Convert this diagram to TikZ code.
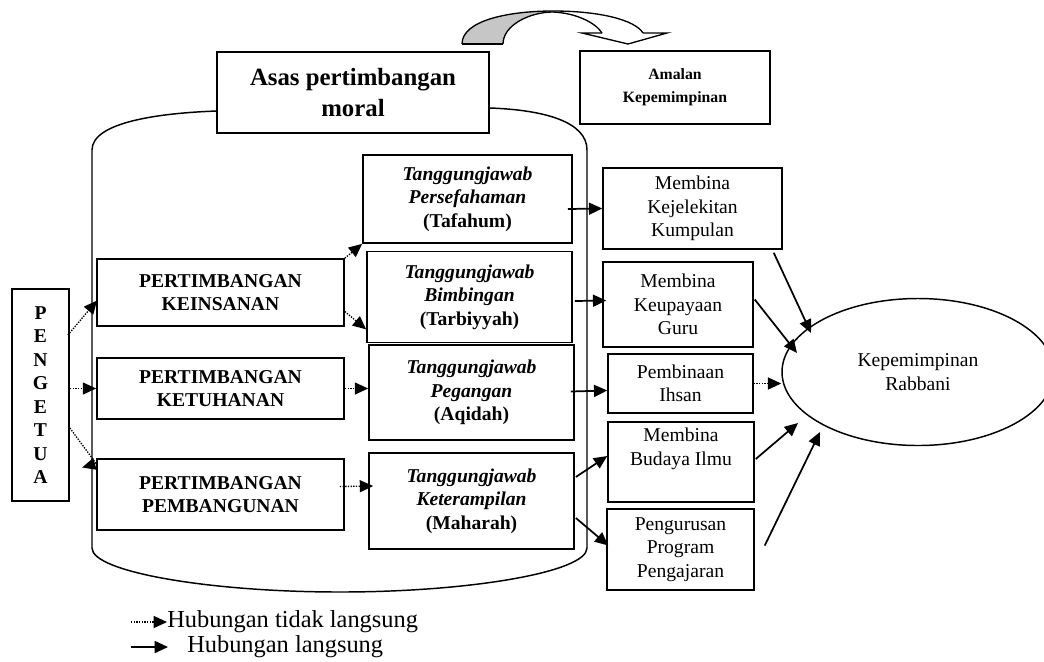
\documentclass[tikz,border=0pt]{standalone}
\usepackage{fontspec}
\setmainfont{Liberation Serif}
\usetikzlibrary{positioning,arrows.meta,calc,shapes.geometric}

\newcommand{\bodysize}{\fontsize{14.7}{17.6}\selectfont}

\begin{document}
\begin{tikzpicture}[
  x=0.75pt, y=-0.75pt,
  box/.style={draw, line width=1.3pt, fill=white, align=center, inner sep=0pt, font=\bodysize},
  dim/.style 2 args={minimum width=#1*0.75pt, minimum height=#2*0.75pt},
  judge/.style={box, font=\bodysize\bfseries},
  duty/.style={box, font=\bodysize\bfseries},
  result/.style={box, line width=1.1pt},
  goal/.style={ellipse, draw, line width=1.1pt, inner sep=0pt, align=center, font=\bodysize},
  direct/.style={line width=1.3pt, -{Triangle[length=10pt, width=9pt]}},
  indirect/.style={line width=1pt, dash pattern=on 1pt off 1pt, -{Triangle[length=10pt, width=9pt]}}
]
  \useasboundingbox (0,0) rectangle (1044,661);

  % bekas pertimbangan
  \draw[line width=1.1pt] (92,150) .. controls (92,122) and (160,113) .. (217,111) -- (490,108)
    .. controls (545,110) and (587,122) .. (587,150) -- (587,548)
    .. controls (587,572) and (470,592) .. (340,592)
    .. controls (210,592) and (92,572) .. (92,548) -- cycle;

  % anak panah melengkung
  \fill[gray!45] (462,44) .. controls (462,20) and (510,11) .. (553,11)
    .. controls (530,12) and (503,25) .. (503,44) -- cycle;
  \draw[line width=1pt] (462,44) .. controls (462,20) and (510,11) .. (553,11)
    .. controls (600,11) and (635,20) .. (643,33);
  \draw[line width=1pt] (503,44) .. controls (503,25) and (530,12) .. (553,12)
    .. controls (575,13) and (595,22) .. (602,33);
  \draw[line width=1pt] (462,44) -- (503,44);
  \draw[line width=1pt, line join=miter] (602,33) -- (582,33) -- (628,44) -- (667,33) -- (643,33);

  \node[box, dim={57}{212}, font=\bodysize\bfseries] (pengetua) at (40.5,395) {P\\E\\N\\G\\E\\T\\U\\A};
  \node[box, dim={272}{81}, font=\fontsize{18.6}{23}\selectfont\bfseries] (asas) at (353,92.5) {Asas pertimbangan\\moral};
  \node[box, dim={190}{73}, font=\fontsize{11.8}{17.3}\selectfont\bfseries] (amalan) at (675,87.5) {Amalan\\Kepemimpinan};

  \node[judge, dim={247}{67}] (keinsanan)   at (220.5,292.5) {PERTIMBANGAN\\KEINSANAN};
  \node[judge, dim={247}{61}] (ketuhanan)   at (220.5,388.5) {PERTIMBANGAN\\KETUHANAN};
  \node[judge, dim={247}{71}] (pembangunan) at (220.5,494.5) {PERTIMBANGAN\\PEMBANGUNAN};

  \node[duty, dim={209}{88}] (tafahum)   at (467.5,199)   {\textit{Tanggungjawab}\\\textit{Persefahaman}\\(Tafahum)};
  \node[duty, dim={205}{91}] (tarbiyyah) at (469.5,297)   {\textit{Tanggungjawab}\\\textit{Bimbingan}\\(Tarbiyyah)};
  \node[duty, dim={205}{95}] (aqidah)    at (471.5,392.5) {\textit{Tanggungjawab}\\\textit{Pegangan}\\(Aqidah)};
  \node[duty, dim={205}{96}] (maharah)   at (471.5,501)   {\textit{Tanggungjawab}\\\textit{Keterampilan}\\(Maharah)};

  \node[result, dim={179}{81}] (kumpulan)   at (692.5,208.5) {Membina\\Kejelekitan\\Kumpulan};
  \node[result, dim={150}{85}] (guru)       at (678,304.5)   {Membina\\Keupayaan\\Guru};
  \node[result, dim={145}{59}] (ihsan)      at (680.5,383.5) {Pembinaan\\Ihsan};
  \node[result, dim={146}{80}] (ilmu)       at (681,462)     {Membina\\Budaya Ilmu\\\strut};
  \node[result, dim={147}{81}] (pengurusan) at (680.5,549.5) {Pengurusan\\Program\\Pengajaran};

  \node[goal, dim={272}{147}] (rabbani) at (918,372) {Kepemimpinan\\Rabbani};

  % hubungan tidak langsung
  \draw[indirect] ($(pengetua.east)+(-2,-60)$) -- ($(keinsanan.west)+(1,8)$);
  \draw[indirect] (pengetua.east |- ketuhanan.west) -- (ketuhanan.west);
  \draw[indirect] ($(pengetua.east)+(0,33)$) -- ($(pembangunan.west)+(0,-31)$) -- ($(pembangunan.west)+(-14,-27)$);
  \draw[indirect] (keinsanan.north east) -- (tafahum.south west);
  \draw[indirect] ($(keinsanan.east)+(0,19)$) -- ($(tarbiyyah.south west)+(0,-14)$);
  \draw[indirect] (ketuhanan.east) -- (ketuhanan.east -| aqidah.west);
  \draw[indirect] ($(pembangunan.east)+(-5,-8)$) -- ($(maharah.west)+(5,-15)$);
  \draw[indirect] (ihsan.east) -- (ihsan.east -| rabbani.west);

  % hubungan langsung
  \draw[direct] ($(tafahum.east)+(-5,10)$) -- (kumpulan.west);
  \draw[direct] ($(tarbiyyah.east)+(2,4)$) -- ($(guru.west)+(4,-4)$);
  \draw[direct] ($(aqidah.east)+(-4,-1)$) -- ($(ihsan.west)+(0,7)$);
  \draw[direct] ($(maharah.east)+(1,-24)$) -- ($(ilmu.west)+(0,-6)$);
  \draw[direct] ($(maharah.east)+(1,17)$) -- ($(pengurusan.west)+(2,-4)$);
  \draw[direct] ($(kumpulan.south east)+(-9,3)$) -- ($(rabbani.center)+(-107,-39)$);
  \draw[direct] ($(guru.east)+(1,-5)$) -- ($(rabbani.center)+(-121,-19)$);
  \draw[direct] ($(ilmu.east)+(1,-3)$) -- ($(rabbani.center)+(-120,51)$);
  \coordinate (lepas) at ($(pengurusan.east)+(10,-4)$);
  \draw[direct] (lepas) -- ($(rabbani.center)+(-98,60)$);

  % petunjuk
  \node[anchor=west, inner sep=0pt, font=\fontsize{18.3}{22}\selectfont] (ket1) at (167,622) {Hubungan tidak langsung};
  \node[anchor=west, inner sep=0pt, font=\fontsize{18.3}{22}\selectfont] (ket2) at (187,647) {Hubungan langsung};
  \coordinate (k1) at (131,622);
  \coordinate (k2) at (131,647);
  \draw[indirect] (k1) -- (ket1.west);
  \draw[direct] (k2) -- ($(ket2.west)+(-19,0)$);
\end{tikzpicture}
\end{document}
